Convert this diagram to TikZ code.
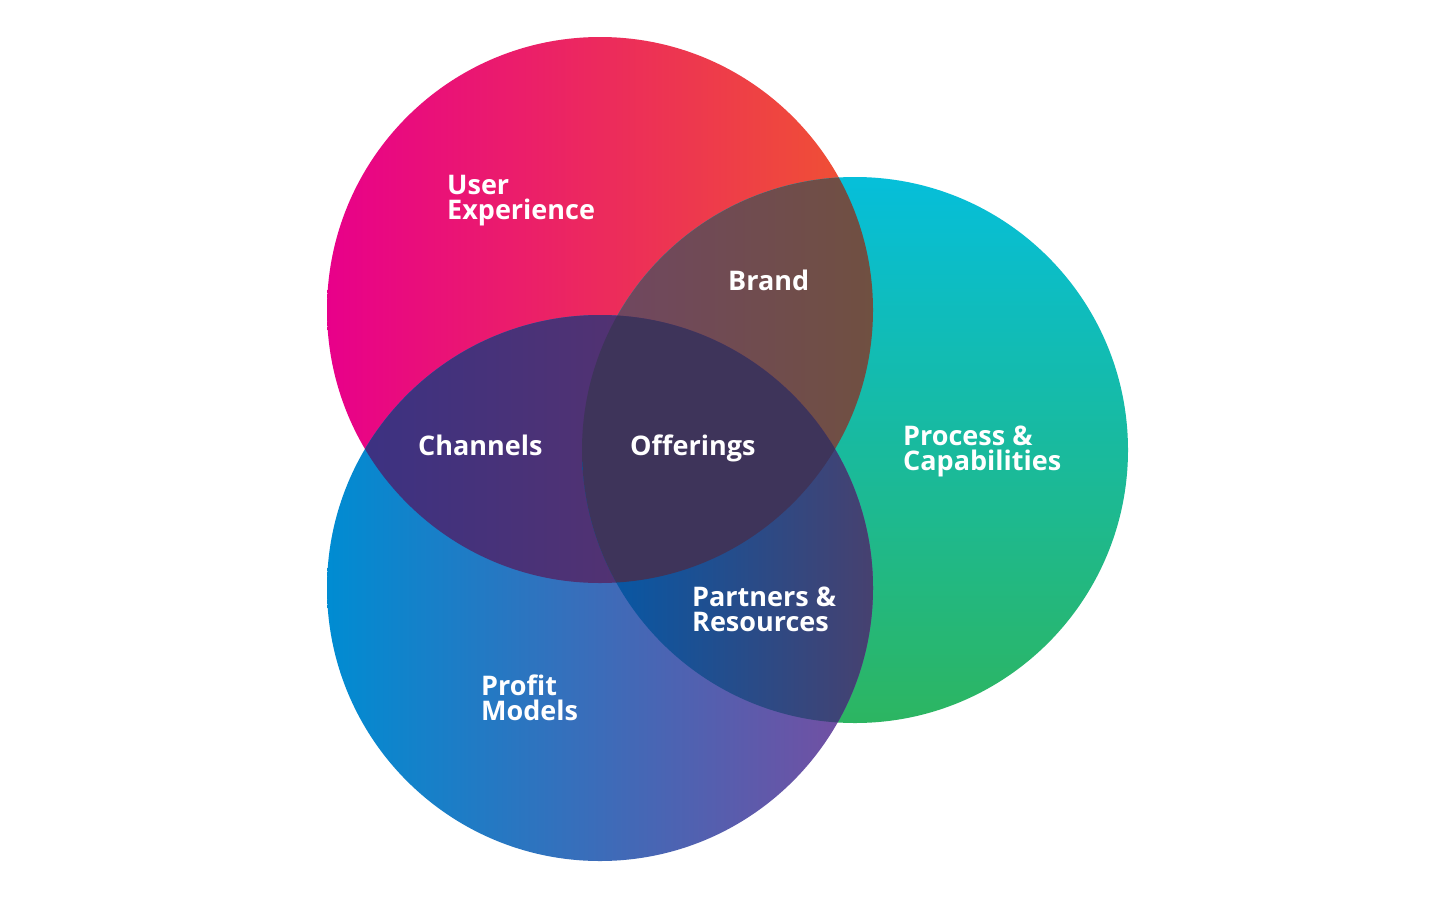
\documentclass[tikz,border=0pt]{standalone}
\usepackage{fontspec}
\setmainfont{Open Sans}
\definecolor{rA}{RGB}{232,0,138}
\definecolor{rB}{RGB}{240,84,48}
\definecolor{gA}{RGB}{0,192,235}
\definecolor{gB}{RGB}{50,180,80}
\definecolor{bA}{RGB}{0,140,210}
\definecolor{bB}{RGB}{120,76,160}
\definecolor{rgA}{RGB}{112,70,100}
\definecolor{rgB}{RGB}{112,80,64}
\definecolor{rbA}{RGB}{60,50,130}
\definecolor{rbB}{RGB}{100,50,100}
\definecolor{gbA}{RGB}{0,90,170}
\definecolor{gbB}{RGB}{72,64,110}
\definecolor{tri}{RGB}{62,52,90}
\begin{document}
\begin{tikzpicture}[x=1pt,y=-1pt,
  lbl/.style={text=white,font=\bfseries\fontsize{27}{25}\selectfont,align=left,anchor=north west,inner sep=0pt}]
\useasboundingbox (0,0) rectangle (1440,900);
\fill[white] (0,0) rectangle (1440,900);
\def\R{273}
\coordinate (cr) at (600,310);
\coordinate (cg) at (855,450);
\coordinate (cb) at (600,588);
\begin{scope}\clip (cr) circle (\R);
 \shade[left color=rA, right color=rB] (327,37) rectangle (873,583);
\end{scope}
\begin{scope}\clip (cg) circle (\R);
 \shade[shading angle=135, top color=gA, bottom color=gB] (500,100) rectangle (1200,800);
\end{scope}
\begin{scope}\clip (cb) circle (\R);
 \shade[left color=bA, right color=bB] (327,315) rectangle (873,861);
\end{scope}
\begin{scope}\clip (cr) circle (\R); \clip (cg) circle (\R);
 \shade[left color=rgA, right color=rgB] (580,170) rectangle (880,470);
\end{scope}
\begin{scope}\clip (cr) circle (\R); \clip (cb) circle (\R);
 \shade[left color=rbA, right color=rbB] (360,310) rectangle (840,590);
\end{scope}
\begin{scope}\clip (cg) circle (\R); \clip (cb) circle (\R);
 \shade[left color=gbA, right color=gbB] (580,440) rectangle (880,730);
\end{scope}
\begin{scope}\clip (cr) circle (\R); \clip (cg) circle (\R); \clip (cb) circle (\R);
 \fill[tri] (570,300) rectangle (880,600);
\end{scope}
\node[lbl] (ux) at (447,175) {User\\Experience};
\node[lbl] (br) at (728,270) {Brand};
\node[lbl] (ch) at (418,435) {Channels};
\node[lbl] (of) at (630,435) {Offerings};
\node[lbl] (pc) at (903,426) {Process \&\\Capabilities};
\node[lbl] (pr) at (692,587) {Partners \&\\Resources};
\node[lbl] (pm) at (481,675) {Profit\\Models};
\end{tikzpicture}
\end{document}
